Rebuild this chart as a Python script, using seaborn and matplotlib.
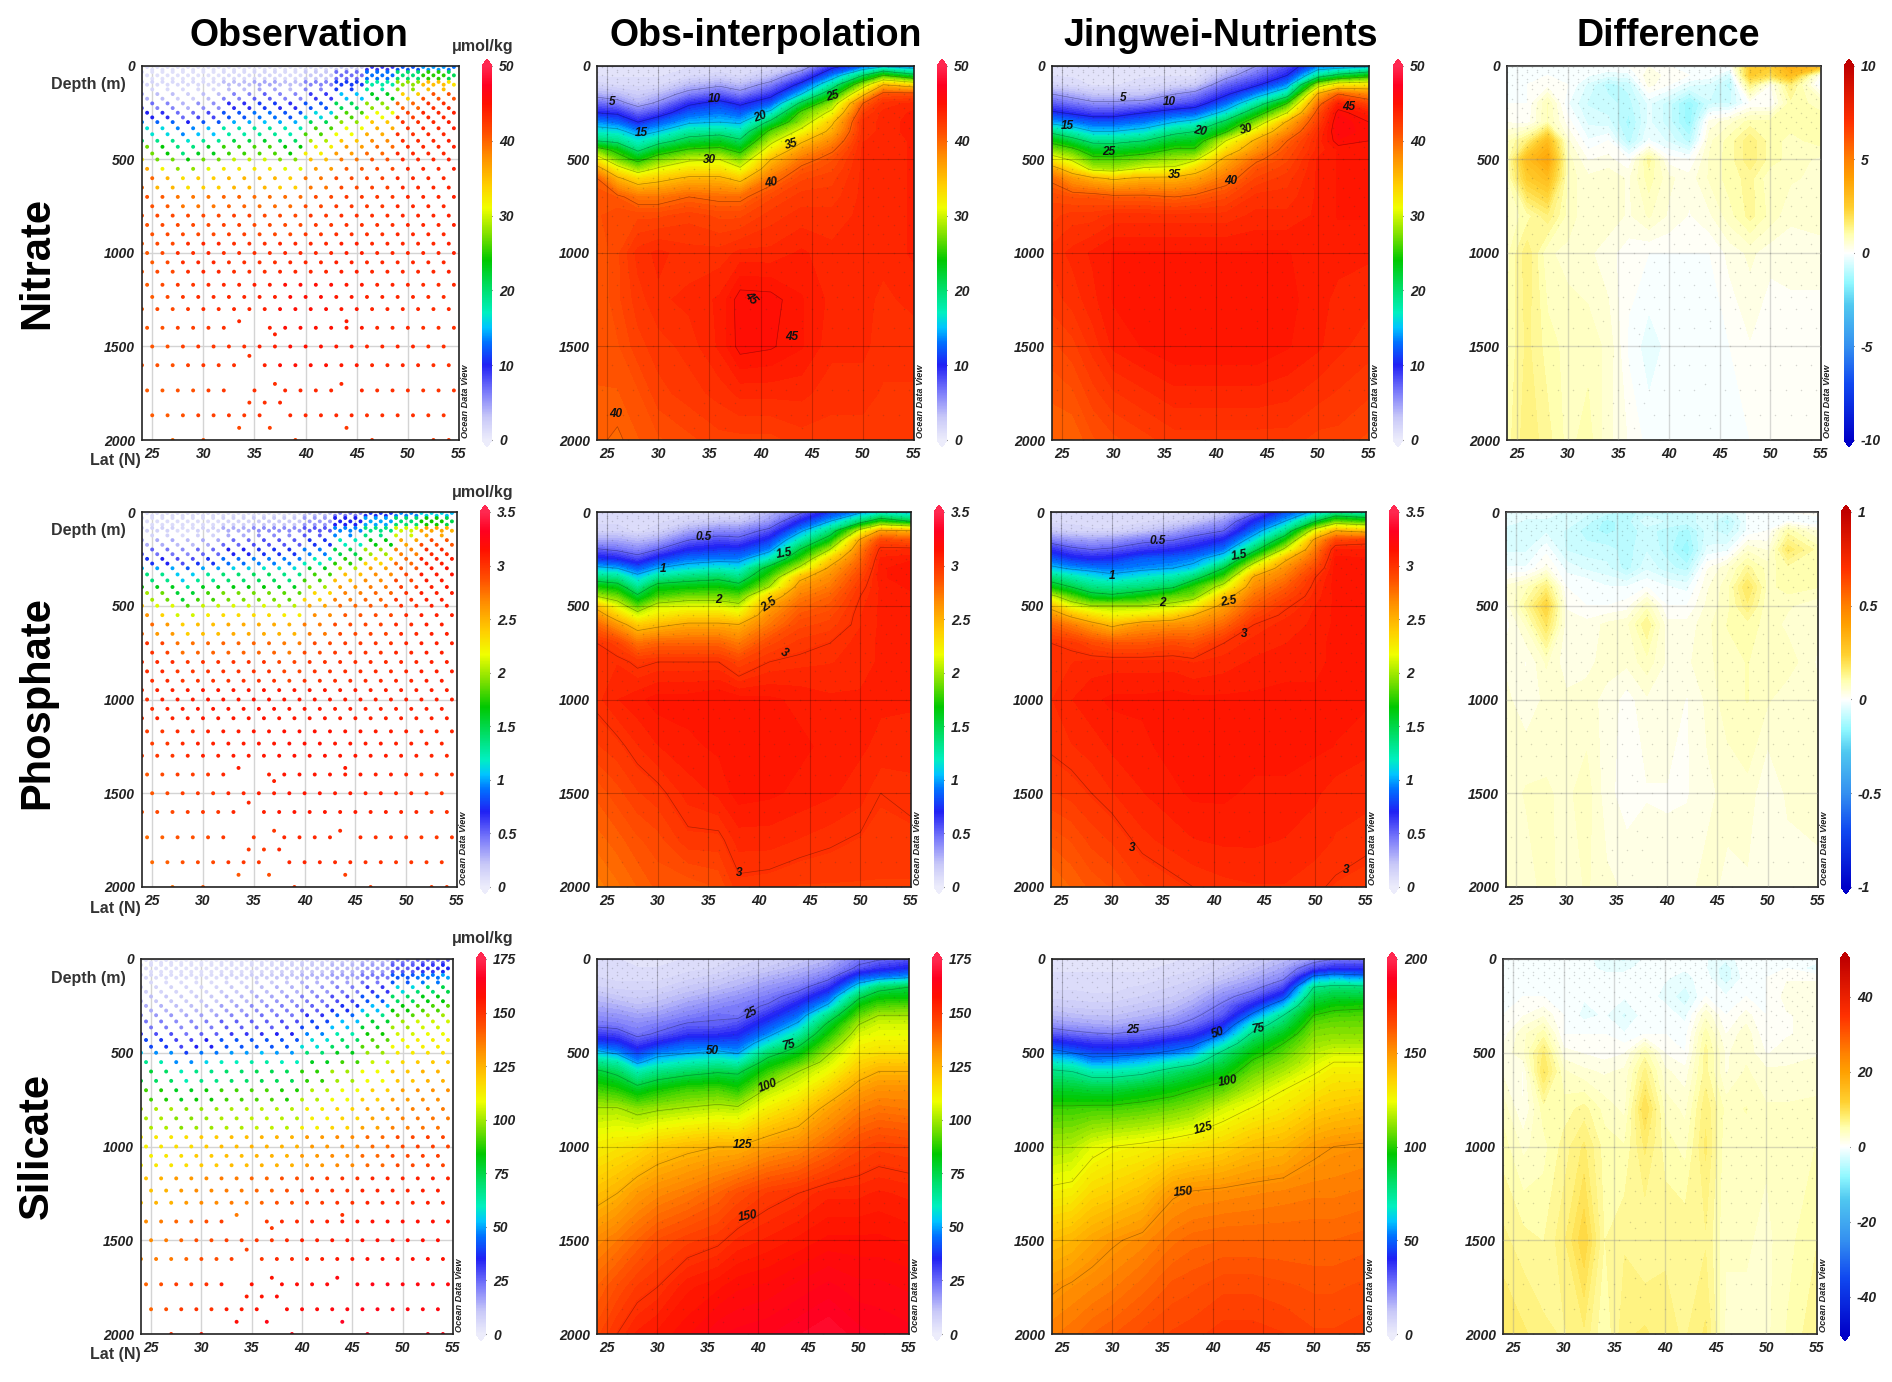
"""Nitrate, phosphate, silicate sections along the transect (obs vs model)."""
import numpy as np
import pandas as pd
import matplotlib.pyplot as plt
import seaborn as sns
from matplotlib.cm import ScalarMappable
from matplotlib.colors import LinearSegmentedColormap, Normalize

# table nodes
lat_nodes = [24, 26, 28, 30, 33, 36, 38, 41, 44, 47, 50, 52, 55]
depth_nodes = [0, 50, 100, 150, 200, 250, 300, 350, 400, 450, 500, 550, 600, 700, 800, 1000, 1250, 1500, 1750, 2000]

# one profile per latitude, top to bottom
no3_obs = [
    [1, 1, 2, 4, 7, 10, 13.5, 16.5, 20, 27, 32, 36.5, 40, 41, 41, 40.5, 40.5, 40.8, 40.5, 40.2],
    [1, 1, 1.5, 3.5, 6, 9.5, 12.5, 16, 19, 24, 27, 31.5, 35.5, 40.5, 41.5, 41.5, 41.5, 41, 40.5, 39.8],
    [1, 1, 1.5, 2.5, 4, 7, 10, 13.5, 16.5, 19.5, 24, 28, 33, 39, 41.5, 43, 42.5, 42, 41, 40.5],
    [1, 1, 1.5, 3.5, 5.5, 8.5, 12, 15, 18.5, 23, 27, 30.5, 34, 39, 41.5, 43.5, 43.2, 42.5, 42, 41],
    [1, 1.5, 3.5, 6, 9.5, 12, 14.5, 18, 21.5, 25.5, 29.5, 32.5, 35.5, 40, 42, 43, 43.5, 43, 42.5, 41.5],
    [1, 2, 4.5, 7.5, 11, 13, 15, 18.5, 22.5, 26, 30, 32.5, 35.5, 39.5, 41.5, 43, 44, 44, 43, 42],
    [1, 1.5, 3.5, 6, 9.5, 12, 14.5, 17.5, 20.5, 24, 27.5, 30.5, 34, 39.5, 41.5, 43.5, 45.4, 45.3, 43.5, 42],
    [1.5, 3, 6, 9, 12, 16, 21, 26, 29, 32, 35, 37, 39, 41.5, 42.5, 43.5, 45.3, 45.1, 43.5, 42],
    [3, 7, 11, 15, 21, 26, 28, 31, 34.5, 37, 39, 40.5, 41.5, 42.5, 43, 44, 44.5, 44.5, 43.5, 42.5],
    [9, 13, 18, 23, 28, 31, 34.5, 36, 38, 39.7, 41, 41.5, 42, 42.5, 43, 43.5, 43.7, 43.5, 43, 42.5],
    [12, 20, 28, 34, 40, 42, 43, 43, 43.3, 43.5, 43.5, 43.5, 43.5, 43.5, 43.5, 43.5, 43.5, 43.5, 43, 42.5],
    [14, 25, 35, 41, 43, 43.5, 43.5, 43.5, 43.5, 43.5, 43.5, 43.5, 43.5, 43.5, 43.5, 43.5, 43.2, 43, 42.7, 42.5],
    [13, 21, 33, 41, 43.5, 44, 44.2, 44.2, 44, 44, 44, 44, 44, 44, 44, 44, 43.5, 43, 42.7, 42.5],
]
no3_model = [
    [1, 1, 2, 5, 7.5, 10.5, 14, 19, 24, 27.5, 32, 36.5, 39.5, 41.5, 42, 43, 42.5, 41.5, 40.7, 40],
    [1, 1, 1.5, 4, 6.5, 9.5, 13, 17, 21.5, 26, 29.5, 33, 37, 41, 42.5, 43.5, 43, 42, 41, 40],
    [1, 1, 1, 3, 5.5, 8.5, 12, 15, 19, 23, 26, 29, 35.5, 41, 42.5, 44, 43.7, 43, 42, 41],
    [1, 1, 1, 3, 5.5, 8.5, 12, 15, 19, 22.5, 26, 28.5, 34.5, 40.5, 43, 44.5, 44.5, 44, 42.7, 41.5],
    [1, 1, 1.5, 3, 6, 10, 13, 16, 20, 23.5, 27, 30.5, 35.5, 40.5, 43, 44.5, 44.8, 44.5, 43.2, 42],
    [1, 1, 2, 5, 7.5, 11.5, 15, 19, 22.5, 25.5, 28.5, 30.5, 35.7, 40, 43, 44.5, 44.9, 44.9, 43.7, 42.5],
    [1, 1, 2.5, 6, 8.5, 12, 16, 20, 23, 25.5, 29.5, 33.5, 36.5, 40.5, 43, 44.5, 44.9, 44.9, 43.7, 42.5],
    [2, 4, 7, 9.5, 12.5, 16, 21, 24.5, 30, 33, 36, 37.5, 39, 41.5, 43, 44.5, 44.9, 44.9, 43.7, 42.5],
    [5, 7, 9.5, 13.5, 18, 23, 27.5, 32, 35.8, 37.5, 39.6, 41, 41.7, 43, 43.5, 44.5, 44.9, 44.9, 43.7, 42.5],
    [8, 10, 13.5, 18, 25, 30, 35.5, 37.7, 40, 41, 41.5, 42, 42.5, 43, 43.5, 44.5, 44.7, 44.5, 43.5, 42.5],
    [13, 18, 28, 35.5, 39, 41, 42, 43, 43.5, 43.5, 44, 44, 44, 44, 44, 44, 44, 44, 43, 42],
    [13, 21, 32, 40, 44, 45.5, 46, 46, 45.5, 44.5, 44.5, 44.5, 44.5, 44.5, 44.5, 44, 43.8, 43.5, 42.7, 42],
    [14, 23.5, 32.5, 38, 41.5, 44, 45, 45.2, 45, 44.5, 44.5, 44.5, 44.5, 44.5, 44.5, 44, 43.5, 43, 42.3, 41.5],
]
po4_obs = [
    [.1, .1, .15, .3, .52, .75, 1.05, 1.37, 1.7, 2, 2.42, 2.62, 2.78, 3, 3.02, 3.02, 2.95, 2.85, 2.78, 2.7],
    [.1, .1, .15, .3, .47, .7, 1, 1.33, 1.62, 1.88, 2.13, 2.36, 2.6, 2.93, 3.03, 3.07, 2.98, 2.9, 2.82, 2.75],
    [.1, .1, .1, .25, .4, .58, .85, 1.08, 1.3, 1.55, 1.83, 2.1, 2.38, 2.75, 2.98, 3.1, 3.03, 2.95, 2.87, 2.8],
    [.1, .1, .15, .3, .5, .75, 1, 1.3, 1.62, 1.8, 2.08, 2.25, 2.45, 2.8, 3, 3.13, 3.07, 2.98, 2.9, 2.85],
    [.1, .15, .3, .5, .7, .9, 1.1, 1.4, 1.65, 1.9, 2.12, 2.33, 2.53, 2.8, 3, 3.13, 3.1, 3.05, 2.98, 2.85],
    [.1, .2, .4, .58, .75, .93, 1.17, 1.45, 1.68, 1.9, 2.12, 2.33, 2.53, 2.8, 3, 3.15, 3.12, 3.08, 2.98, 2.88],
    [.1, .2, .4, .55, .75, .93, 1.13, 1.35, 1.6, 1.85, 2.05, 2.25, 2.5, 2.72, 2.92, 3.13, 3.15, 3.13, 3.05, 2.98],
    [.25, .35, .55, .75, .93, 1.2, 1.6, 1.8, 2, 2.35, 2.55, 2.65, 2.72, 2.9, 3, 3.12, 3.15, 3.12, 3.05, 2.97],
    [.45, .7, .95, 1.2, 1.5, 1.75, 2.05, 2.45, 2.6, 2.7, 2.78, 2.85, 2.9, 2.97, 3.02, 3.1, 3.12, 3.1, 3.03, 2.95],
    [.75, 1, 1.35, 1.65, 2, 2.35, 2.55, 2.65, 2.72, 2.8, 2.85, 2.9, 2.93, 3, 3.03, 3.08, 3.1, 3.08, 3.01, 2.95],
    [.95, 1.4, 2.1, 2.55, 2.7, 2.78, 2.85, 2.92, 2.97, 3, 3.02, 3.03, 3.03, 3.05, 3.05, 3.08, 3.08, 3.05, 2.99, 2.95],
    [1.1, 1.7, 2.55, 2.9, 3.03, 3.08, 3.1, 3.1, 3.08, 3.08, 3.08, 3.08, 3.08, 3.08, 3.08, 3.08, 3.06, 3, 2.98, 2.95],
    [1.05, 1.5, 2.5, 2.85, 3.03, 3.1, 3.15, 3.15, 3.12, 3.1, 3.08, 3.08, 3.08, 3.08, 3.08, 3.08, 3.05, 3.02, 2.98, 2.95],
]
po4_model = [
    [.08, .1, .2, .42, .65, .85, 1.05, 1.38, 1.65, 2.07, 2.42, 2.63, 2.8, 3, 3.03, 3.03, 3.01, 2.95, 2.85, 2.75],
    [.08, .1, .15, .35, .55, .75, .97, 1.25, 1.5, 1.83, 2.13, 2.45, 2.7, 2.98, 3.03, 3.07, 3.03, 2.97, 2.88, 2.8],
    [.08, .08, .13, .33, .5, .7, .93, 1.15, 1.35, 1.6, 2, 2.3, 2.57, 2.9, 3.05, 3.1, 3.05, 3, 2.93, 2.85],
    [.08, .08, .13, .35, .53, .73, .9, 1.07, 1.32, 1.55, 2, 2.2, 2.45, 2.85, 3.05, 3.12, 3.08, 3.03, 2.96, 2.88],
    [.08, .1, .2, .45, .62, .85, .95, 1.17, 1.37, 1.67, 2, 2.25, 2.6, 2.85, 3.05, 3.12, 3.1, 3.07, 3.02, 2.95],
    [.1, .15, .3, .5, .68, .88, 1, 1.25, 1.47, 1.85, 2.07, 2.35, 2.63, 2.9, 3.05, 3.13, 3.13, 3.1, 3.05, 2.98],
    [.1, .2, .4, .58, .75, .93, 1.07, 1.4, 1.75, 1.9, 2.2, 2.5, 2.65, 2.87, 3.03, 3.12, 3.14, 3.12, 3.07, 3],
    [.2, .35, .5, .72, .9, 1.15, 1.5, 1.8, 2.1, 2.4, 2.57, 2.67, 2.78, 3, 3.05, 3.12, 3.14, 3.12, 3.08, 3.02],
    [.45, .72, .9, 1.12, 1.42, 1.83, 2.22, 2.55, 2.65, 2.75, 2.83, 2.92, 3, 3.05, 3.08, 3.12, 3.13, 3.1, 3.08, 3.03],
    [.8, 1, 1.3, 1.67, 2.05, 2.45, 2.63, 2.72, 2.82, 2.9, 2.98, 3.02, 3.05, 3.07, 3.1, 3.12, 3.13, 3.1, 3.07, 3.03],
    [1.05, 1.5, 2.15, 2.57, 2.7, 2.8, 2.9, 3, 3.03, 3.05, 3.07, 3.08, 3.08, 3.1, 3.1, 3.12, 3.12, 3.08, 3.05, 3.01],
    [1.25, 1.85, 2.5, 2.9, 3.08, 3.12, 3.13, 3.13, 3.13, 3.12, 3.12, 3.12, 3.12, 3.12, 3.12, 3.12, 3.11, 3.05, 3.03, 2.99],
    [1.15, 1.75, 2.42, 2.95, 3.07, 3.12, 3.14, 3.14, 3.14, 3.13, 3.12, 3.12, 3.12, 3.12, 3.12, 3.12, 3.08, 3.05, 3.01, 2.98],
]
si_obs = [
    [4, 5, 6, 8, 12, 15, 19, 23, 31, 40, 53, 66, 77, 90, 101, 112, 122, 133, 140, 145],
    [4, 4, 5, 7, 10, 14, 18, 22, 29, 38, 48, 62, 72, 87, 101, 114, 125, 136, 144, 150],
    [3, 4, 5, 7, 9, 12, 16, 20, 23, 30, 39, 48, 61, 80, 97, 116, 130, 140, 148, 154],
    [3, 4, 5, 7, 10, 13, 17, 22, 26, 35, 46, 55, 67, 85, 99, 120, 133, 144, 150, 156],
    [4, 5, 7, 10, 13, 17, 21, 26, 32, 42, 49, 60, 71, 90, 101, 123, 136, 147, 155, 159],
    [5, 6, 9, 12, 16, 20, 24, 26, 33, 42, 52, 63, 74, 91, 103, 125, 140, 149, 157, 163],
    [6, 8, 11, 14, 18, 22, 23, 29, 35, 42, 49, 60, 73, 87, 102, 125, 144, 152, 159, 164],
    [8, 10, 14, 18, 22, 26, 33, 40, 47, 57, 70, 80, 88, 102, 112, 130, 148, 154, 160, 165],
    [10, 13, 17, 22, 29, 37, 44, 52, 62, 72, 81, 90, 100, 109, 118, 133, 150, 156, 162, 167],
    [13, 17, 23, 32, 42, 52, 67, 78, 85, 92, 99, 104, 109, 119, 128, 139, 153, 158, 164, 169],
    [22, 27, 42, 56, 72, 84, 92, 100, 105, 110, 113, 117, 121, 129, 135, 145, 153, 158, 162, 166],
    [24, 32, 46, 70, 82, 91, 100, 105, 108, 112, 115, 120, 125, 132, 137, 147, 154, 158, 162, 165],
    [27, 36, 50, 75, 83, 92, 100, 105, 108, 112, 115, 120, 125, 132, 136, 146, 153, 157, 161, 164],
]
si_model = [
    [3, 4, 5, 6, 8, 11, 15, 21, 31, 43, 54, 66, 77, 90, 102, 115, 127, 140, 149, 155],
    [3, 4, 5, 6, 8, 10, 14, 19, 28, 40, 50, 63, 75, 90, 102, 116, 128, 142, 151, 157],
    [3, 4, 5, 6, 7, 10, 13, 18, 26, 37, 46, 55, 69, 88, 103, 122, 134, 146, 153, 160],
    [3, 4, 5, 6, 7, 10, 13, 17, 25, 36, 46, 56, 69, 88, 103, 125, 136, 149, 155, 162],
    [3, 4, 5, 7, 9, 12, 15, 20, 28, 38, 48, 60, 72, 92, 105, 127, 140, 152, 159, 165],
    [4, 5, 7, 9, 11, 14, 18, 24, 33, 44, 52, 67, 80, 96, 108, 130, 149, 157, 163, 167],
    [5, 6, 8, 11, 14, 18, 23, 28, 37, 47, 57, 71, 85, 100, 111, 132, 151, 159, 164, 168],
    [7, 9, 12, 17, 22, 27, 31, 40, 50, 64, 78, 85, 93, 106, 120, 135, 152, 160, 166, 170],
    [10, 13, 17, 22, 30, 41, 53, 67, 78, 87, 95, 102, 107, 117, 126, 140, 153, 160, 166, 170],
    [14, 18, 23, 33, 45, 60, 75, 83, 92, 100, 105, 110, 115, 125, 130, 142, 154, 160, 165, 169],
    [20, 33, 54, 75, 84, 92, 100, 106, 110, 113, 117, 120, 124, 130, 136, 148, 155, 160, 164, 167],
    [25, 38, 58, 79, 88, 97, 103, 108, 111, 115, 120, 125, 128, 133, 138, 150, 155, 160, 164, 167],
    [26, 38, 55, 78, 88, 98, 104, 108, 111, 115, 120, 125, 128, 134, 140, 151, 156, 161, 165, 168],
]

diff_lats = [24, 26, 28, 30, 32, 34, 36, 38, 40, 42, 44, 46, 48, 50, 52, 55]
diff_depths = [0, 50, 100, 200, 300, 400, 500, 600, 800, 1000, 1500, 2000]
no3_diff = [
    [0, 0, 0, 0, .2, .8, .9, .8, .7, .8, .9, 1],
    [0, 0, 0, 0, .1, 1.5, 3, 2.5, 1, 1.5, 1.4, 1.5],
    [0, 0, .1, .9, .9, 3, 3.8, 3, 1.5, .7, 1, 1.2],
    [0, 0, 0, -.2, .1, .5, .8, .8, .8, .6, .8, .8],
    [0, -.2, -.5, -.7, -.5, -.2, .2, .5, .5, .5, .8, 1],
    [0, -.4, -1, -.8, -.6, 0, .3, .6, .6, .3, .6, .5],
    [0, -.3, -.8, -1, -1.2, -1, 0, .4, .4, .1, -.05, .2],
    [.2, .4, .3, -.4, -.4, -.2, 1.2, 1, .7, 0, -.35, -.1],
    [0, .1, 0, -.8, -.8, -.5, .1, .5, .4, 0, -.15, 0],
    [0, 0, -.4, -1.5, -1.5, -1, 0, .3, .2, 0, -.2, -.1],
    [0, -.1, -.5, -.7, .3, .6, .7, .7, .4, 0, -.2, -.1],
    [0, -.6, -1, -.7, .6, 1, 1, 1, .8, .3, 0, 0],
    [2.5, 2.5, 1.4, 0, 1, 1.5, 1.5, 1.2, 1.2, .5, .2, 0],
    [2.5, 2, .2, 0, 1, 1, 1, .7, .8, .3, 0, .1],
    [3.5, 3, 1.5, 1, 1, .8, .8, .7, .5, .3, .1, 0],
    [3, 0, -.2, .8, 1, 1, .6, .6, .6, .3, .1, .1],
]
po4_diff = [
    [-.03, -.03, -.06, -.05, -.02, .05, .03, .01, .04, .05, .05, .07],
    [-.03, -.05, -.06, -.05, -.02, .08, .12, .07, .02, .03, .07, .05],
    [-.03, -.05, -.05, -.01, .03, .15, .23, .18, .07, .05, .07, .08],
    [-.05, -.05, -.07, -.07, -.03, 0, .02, .03, .03, .05, .06, .05],
    [-.06, -.08, -.1, -.08, -.05, 0, 0, .03, .04, .05, .08, .07],
    [-.08, -.12, -.12, -.08, -.06, -.02, 0, .05, .05, .04, .03, .05],
    [-.1, -.1, -.1, -.1, -.1, -.02, .01, .06, .05, .01, .01, .04],
    [-.08, -.05, -.08, -.07, -.05, 0, .08, .13, .08, .04, .02, .04],
    [-.1, -.07, -.1, -.1, -.08, -.02, 0, .03, .04, .04, .02, .03],
    [-.08, -.08, -.12, -.15, -.1, -.03, 0, .03, .04, .02, .02, .04],
    [-.05, -.05, -.06, -.04, .02, .04, .05, .06, .06, .05, .04, .05],
    [-.06, -.1, -.08, -.03, .06, .08, .08, .09, .08, .08, .05, .04],
    [-.02, -.02, -.02, .06, .12, .18, .15, .1, .09, .09, .06, .04],
    [0, -.01, 0, .04, .08, .08, .07, .08, .07, .07, .02, .04],
    [0, 0, .1, .17, .1, .1, .07, .06, .08, .05, .05, .03],
    [.02, -.03, .04, .1, .1, .09, .05, .05, .04, .05, .05, .04],
]
si_diff = [
    [-.5, -1, -1, -.5, 0, .5, 1.5, 2, 4, 5, 7, 9],
    [-.5, -1, -.5, 0, 1, 3, 3, 1, 1, 3, 6, 8],
    [0, 0, 0, 0, 2, 5, 8, 9, 5, 4, 5.5, 7],
    [0, 0, 0, -.5, 0, 0, 1.5, 3.5, 5, 6, 7.5, 6.5],
    [-.5, -.5, -1, -1, -1.5, 0, 1, 2.5, 6, 8, 11, 7.5],
    [-2, -1.5, -.5, -1, -1, 0, .5, 2, 4, 5, 5.5, 4.5],
    [-2.5, -1.5, -.5, -1, -2.5, -1, 1, 2.5, 3, 4.5, 6.5, 7.5],
    [-1, -.5, -.5, -.5, -.5, 0, 5, 7, 10, 8, 5.5, 8],
    [-.5, -.5, -1, -1.5, -.5, 0, 1, 2.5, 4, 5, 6.5, 7],
    [-1, -1, -1.5, -3, -1.5, -.5, 0, 1.5, 3, 4, 6.5, 6.5],
    [-1, -1, -.5, 0, 3, 5, 6, 6, 7.5, 8, 6.5, 8],
    [-2, -3, -3, -1, 0, 1, 2, 2, 4, 3.5, 3.5, 3],
    [0, 0, -.5, 0, 1.5, 3, 3, 3.5, 4.5, 4, 3.5, 3],
    [-.5, -.5, 0, 0, 0, 0, 1, 2.5, 3.5, 3.5, 3, 3],
    [0, 0, 1, 1.5, 1, 1, 1.5, 2.5, 3.5, 3.5, 4, 4.5],
    [-.5, -2, 1, 1.5, 1.5, 1.5, 2, 3, 3.5, 4.5, 5.5, 6.5],
]

# sampling rows of the observation panels
row_depths = [5, 20, 32, 50, 68, 85, 100, 125, 150, 175, 200, 225, 250, 275, 300, 333, 365, 400, 432, 468,
              500, 550, 600, 650, 700, 750, 800, 850, 900, 950, 1000, 1050, 1100, 1170, 1235, 1300, 1400,
              1500, 1600, 1735, 1868]
extra_lats = [33.5, 44, 37, 34.5, 37, 43.5, 34.5, 36, 37.5, 33.5, 36.5, 44, 27, 30, 39, 46.5, 52.5, 54]
extra_depths = [1365, 1365, 1435, 1550, 1700, 1700, 1800, 1800, 1800, 1935, 1935, 1935,
                2000, 2000, 2000, 2000, 2000, 2000]
missing = [(1735, 33.5), (1735, 36.5), (1735, 44), (1868, 37), (1600, 34.5), (1400, 33.5), (1400, 35)]

col_titles = ["Observation", "Obs-interpolation", "Jingwei-Nutrients", "Difference"]
row_titles = ["Nitrate", "Phosphate", "Silicate"]

no3_levels = [5, 10, 15, 20, 25, 30, 35, 40, 45]
po4_levels = [0.5, 1, 1.5, 2, 2.5, 3]
si_levels = [25, 50, 75, 100, 125, 150]

no3_ticks = [0, 10, 20, 30, 40, 50]
po4_ticks = [0, 0.5, 1, 1.5, 2, 2.5, 3, 3.5]
si_ticks = [0, 25, 50, 75, 100, 125, 150, 175]
si_model_ticks = [0, 50, 100, 150, 200]

# contour labels: lat, depth, text, rotation
no3_obs_labels = [(25.5, 190, "5", 0), (35.5, 178, "10", 0), (28.3, 360, "15", 0), (40, 272, "20", 20),
                  (47, 165, "25", 15), (35, 503, "30", 0), (43, 418, "35", 15), (41, 626, "40", 10),
                  (39, 1240, "45", -50), (43, 1450, "45", 0), (25.8, 1860, "40", 0)]
no3_model_labels = [(31, 170, "5", 0), (35.5, 195, "10", 0), (25.5, 323, "15", 0), (38.5, 347, "20", -10),
                    (29.5, 462, "25", 0), (43, 338, "30", 15), (36, 581, "35", 0), (41.5, 613, "40", 0),
                    (53, 220, "45", 0)]
po4_obs_labels = [(34.5, 133, "0.5", 0), (30.5, 302, "1", 0), (42.5, 224, "1.5", 10), (36, 470, "2", 0),
                  (41, 495, "2.5", 35), (42.5, 752, "3", -30), (38, 1925, "3", 0)]
po4_model_labels = [(34.5, 157, "0.5", 0), (30, 340, "1", 0), (42.5, 231, "1.5", 10), (35, 484, "2", 0),
                    (41.5, 477, "2.5", 10), (43, 650, "3", 0), (32, 1790, "3", 0), (53, 1910, "3", 0)]
si_obs_labels = [(39.3, 290, "25", 25), (35.5, 491, "50", 0), (43, 459, "75", 15), (41, 678, "100", 20),
                 (38.5, 990, "125", 0), (39, 1375, "150", 10)]
si_model_labels = [(32, 379, "25", 0), (40.5, 397, "50", 20), (44.5, 374, "75", 10), (41.5, 655, "100", 10),
                   (39, 904, "125", 15), (37, 1242, "150", 5)]

# pixel layout of the original figure
axes_left = [[142, 597, 1052, 1507], [142, 597, 1051, 1506], [141, 597, 1052, 1503]]
axes_right = [[459, 914, 1369, 1821], [457, 911, 1366, 1818], [453, 909, 1364, 1817]]
axes_top = [66, 512, 959]
axes_bottom = [440, 887, 1334]
cbar_left = [[482, 937, 1393, 1844], [480, 934, 1389, 1841], [476, 932, 1387, 1840]]
FIG_W, FIG_H = 1892, 1382

sns.set_theme(style="white")
plt.rcParams["font.family"] = ["Liberation Sans", "DejaVu Sans"]

rainbow = LinearSegmentedColormap.from_list("odv", [
    (0.00, "#ececfb"), (0.06, "#c8c8f8"), (0.13, "#7878fa"), (0.20, "#2020f4"), (0.26, "#0070ff"),
    (0.30, "#00c4ff"), (0.34, "#00f0c0"), (0.40, "#00e070"), (0.48, "#00c800"), (0.55, "#80e000"),
    (0.62, "#f0ff00"), (0.68, "#ffd000"), (0.76, "#ff8c00"), (0.82, "#ff5000"), (0.90, "#ff1000"),
    (0.95, "#ff0020"), (1.00, "#ff2850")], N=512)
rainbow.set_under("#ececfb")
rainbow.set_over("#ff2850")
diverge = LinearSegmentedColormap.from_list("odv_diff", [
    (0.00, "#0000c8"), (0.15, "#1048f0"), (0.25, "#3490f0"), (0.36, "#50c8f0"), (0.42, "#90f8ff"),
    (0.50, "#ffffff"), (0.55, "#ffffb0"), (0.58, "#ffee70"), (0.62, "#ffd030"), (0.70, "#ffa000"),
    (0.75, "#ff8000"), (0.85, "#ff3000"), (1.00, "#c00000")], N=512)
diverge.set_under("#0000c8")
diverge.set_over("#c00000")


def to_px(left, right, top, bottom):
    return [left / FIG_W, 1 - bottom / FIG_H, (right - left) / FIG_W, (bottom - top) / FIG_H]


def sample_table():
    lats, depths = [], []
    for i, d in enumerate(row_depths):
        # rows step through three start latitudes, 500 m starts at 24
        start = 24 + 0.5 * ((i - row_depths.index(500)) % 3)
        step = 1.0 if d <= 100 else 1.5
        for lat in np.arange(start, 54.6, step):
            if (d, lat) not in missing:
                lats.append(lat)
                depths.append(d)
    return pd.DataFrame({"lat": lats + extra_lats, "depth": depths + extra_depths})


def nearest_values(samples, field):
    # each dot takes the table cell it falls in
    i = np.abs(np.array(depth_nodes)[:, None] - samples["depth"].values).argmin(axis=0)
    j = np.abs(np.array(lat_nodes)[:, None] - samples["lat"].values).argmin(axis=0)
    return field[i, j]


def dress_axes(ax, grid_color, grid_alpha, grid_width):
    ax.set_xlim(24, 55)
    ax.set_ylim(2000, 0)
    ax.set_xticks([25, 30, 35, 40, 45, 50, 55])
    ax.set_yticks([0, 500, 1000, 1500, 2000])
    ax.set_xlabel("")
    ax.set_ylabel("")
    ax.tick_params(length=0, pad=5, labelsize=10, labelcolor="#222222")
    for lab in ax.get_xticklabels() + ax.get_yticklabels():
        lab.set_fontweight("bold")
        lab.set_fontstyle("italic")
    ax.grid(True, color=grid_color, alpha=grid_alpha, lw=grid_width)
    for sp in ax.spines.values():
        sp.set_visible(True)
        sp.set_color("#222222")
        sp.set_linewidth(1.2)
    ax.text(1.022, 0.005, "Ocean Data View", transform=ax.transAxes, rotation=90, fontsize=6.6,
            fontweight="bold", fontstyle="italic", ha="center", va="bottom", color="#222222")


def add_colorbar(fig, r, c, cmap, norm, ticks):
    top, bottom = axes_top[r], axes_bottom[r]
    tip = 7
    cax = fig.add_axes(to_px(cbar_left[r][c], cbar_left[r][c] + 10, top - tip, bottom + tip))
    cb = fig.colorbar(ScalarMappable(norm=norm, cmap=cmap), cax=cax, extend="both",
                      extendfrac=tip / (bottom - top))
    cb.outline.set_visible(False)
    cb.set_ticks(ticks)
    cb.set_ticklabels(["{:g}".format(t) for t in ticks])
    cax.tick_params(length=3, width=0.8, direction="in", color="#333333", pad=5, labelsize=10)
    for lab in cax.get_yticklabels():
        lab.set_fontweight("bold")
        lab.set_fontstyle("italic")
        lab.set_color("#222222")


def draw_observation(ax, samples, field, norm):
    data = samples.copy()
    data["value"] = nearest_values(samples, field)
    sns.scatterplot(data=data, x="lat", y="depth", hue="value", palette=rainbow, hue_norm=norm,
                    s=8, linewidth=0, legend=False, ax=ax)
    ax.set_axisbelow(True)
    dress_axes(ax, "#d4d4d4", 1, 1.0)


def draw_section(ax, samples, lats, depths, field, norm, cmap, levels, labels, diff=False):
    fill = np.linspace(norm.vmin, norm.vmax, 91)
    ax.contourf(lats, depths, field, levels=fill, cmap=cmap, norm=norm, extend="both")
    if levels:
        ax.contour(lats, depths, field, levels=levels, colors="#000000", linewidths=0.5, alpha=0.3)
    sns.scatterplot(data=samples, x="lat", y="depth", color="#333333", s=1.2, alpha=0.2, linewidth=0,
                    legend=False, ax=ax)
    ax.set_axisbelow(False)
    if diff:
        dress_axes(ax, "#909090", 0.35, 1.0)
    else:
        dress_axes(ax, "#000000", 0.22, 0.8)
    for lat, depth, text, rot in labels:
        ax.text(lat, depth, text, fontsize=8.5, fontweight="bold", fontstyle="italic", rotation=rot,
                ha="center", va="center", color="#111111")


samples = sample_table()
rows = [
    (no3_obs, no3_model, no3_diff, 50, 50, 10, no3_levels, no3_ticks, no3_ticks, [-10, -5, 0, 5, 10],
     no3_obs_labels, no3_model_labels),
    (po4_obs, po4_model, po4_diff, 3.5, 3.5, 1, po4_levels, po4_ticks, po4_ticks, [-1, -0.5, 0, 0.5, 1],
     po4_obs_labels, po4_model_labels),
    (si_obs, si_model, si_diff, 175, 200, 50, si_levels, si_ticks, si_model_ticks, [-40, -20, 0, 20, 40],
     si_obs_labels, si_model_labels),
]

fig = plt.figure(figsize=(FIG_W / 100, FIG_H / 100), dpi=100, facecolor="white")

for r, row in enumerate(rows):
    obs, model, diff, obs_max, model_max, diff_max, levels, ticks, model_ticks, diff_ticks, lab_o, lab_m = row
    obs_field = np.array(obs).T
    model_field = np.array(model).T
    diff_field = np.array(diff).T
    obs_norm = Normalize(0, obs_max)
    model_norm = Normalize(0, model_max)
    diff_norm = Normalize(-diff_max, diff_max)

    axs = [fig.add_axes(to_px(axes_left[r][c], axes_right[r][c], axes_top[r], axes_bottom[r])) for c in range(4)]
    draw_observation(axs[0], samples, obs_field, obs_norm)
    draw_section(axs[1], samples, lat_nodes, depth_nodes, obs_field, obs_norm, rainbow, levels, lab_o)
    draw_section(axs[2], samples, lat_nodes, depth_nodes, model_field, model_norm, rainbow, levels, lab_m)
    draw_section(axs[3], samples, diff_lats, diff_depths, diff_field, diff_norm, diverge, None, [], diff=True)

    add_colorbar(fig, r, 0, rainbow, obs_norm, ticks)
    add_colorbar(fig, r, 1, rainbow, obs_norm, ticks)
    add_colorbar(fig, r, 2, rainbow, model_norm, model_ticks)
    add_colorbar(fig, r, 3, diverge, diff_norm, diff_ticks)

    fig.text(483 / FIG_W, 1 - (axes_top[r] - 20) / FIG_H, "μmol/kg", fontsize=11.5, fontweight="bold",
             ha="center", va="center", color="#333333")
    fig.text(126 / FIG_W, 1 - (axes_top[r] + 19) / FIG_H, "Depth (m)", fontsize=11.5, fontweight="bold",
             ha="right", va="center", color="#333333")
    fig.text(141 / FIG_W, 1 - (axes_bottom[r] + 21) / FIG_H, "Lat (N)", fontsize=11.5, fontweight="bold",
             ha="right", va="center", color="#333333")

for title, x in zip(col_titles, [299, 766, 1221, 1668]):
    fig.text(x / FIG_W, 1 - 36 / FIG_H, title, fontsize=27, fontweight="bold", ha="center", va="center",
             color="black")
for title, y in zip(row_titles, [263, 703, 1146]):
    fig.text(37 / FIG_W, 1 - y / FIG_H, title, fontsize=30, fontweight="bold", rotation=90, ha="center",
             va="center", color="black")

fig.savefig("out.png", dpi=100)
